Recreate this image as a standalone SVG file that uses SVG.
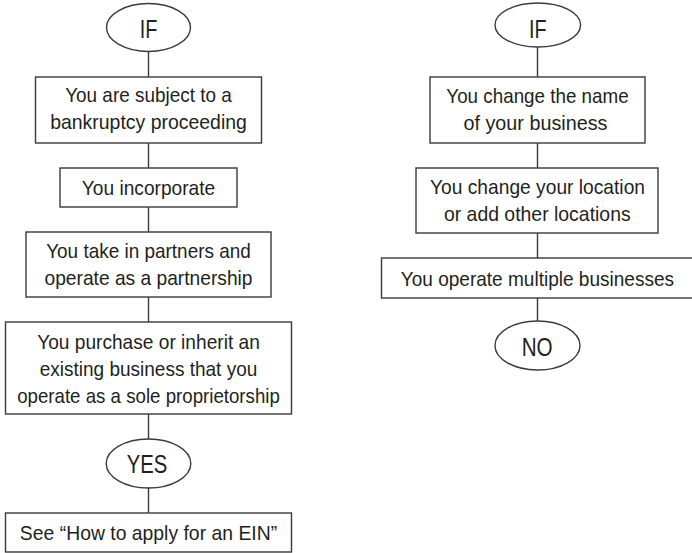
<svg xmlns="http://www.w3.org/2000/svg" width="692" height="553" viewBox="0 0 692 553">
<style>
.box{fill:#fff;stroke:#3a3a3a;stroke-width:1.4}
.conn{stroke:#3a3a3a;stroke-width:1.4;fill:none}
.t{font-family:"Liberation Sans",Arial,sans-serif;font-size:21px;fill:#231f20;text-anchor:middle}
.lab{font-family:"Liberation Sans",Arial,sans-serif;font-size:25px;fill:#231f20;text-anchor:middle}
</style>
<rect width="692" height="553" fill="#fff"/>
<g id="connectors">
<line class="conn" x1="148.5" y1="51.5" x2="148.5" y2="77"/>
<line class="conn" x1="148.5" y1="143" x2="148.5" y2="168"/>
<line class="conn" x1="148.5" y1="207" x2="148.5" y2="232"/>
<line class="conn" x1="148.5" y1="297" x2="148.5" y2="322"/>
<line class="conn" x1="148.5" y1="414" x2="148.5" y2="439"/>
<line class="conn" x1="148.5" y1="488" x2="148.5" y2="513"/>
<line class="conn" x1="537.5" y1="47" x2="537.5" y2="77"/>
<line class="conn" x1="537.5" y1="143" x2="537.5" y2="168"/>
<line class="conn" x1="537.5" y1="233" x2="537.5" y2="258"/>
<line class="conn" x1="537.5" y1="298" x2="537.5" y2="321"/>
</g>
<g id="if-left">
<ellipse class="box" cx="148.5" cy="27.5" rx="42" ry="24"/>
<text class="lab" x="148.5" y="38" textLength="17.6" lengthAdjust="spacingAndGlyphs">IF</text>
</g>
<g id="bankruptcy">
<rect class="box" x="35.5" y="77" width="226" height="66"/>
<text class="t" x="148.5" y="102" textLength="166.7" lengthAdjust="spacingAndGlyphs">You are subject to a</text>
<text class="t" x="148.5" y="129" textLength="196.7" lengthAdjust="spacingAndGlyphs">bankruptcy proceeding</text>
</g>
<g id="incorporate">
<rect class="box" x="60" y="168" width="177" height="39"/>
<text class="t" x="148.5" y="194.5" textLength="133.3" lengthAdjust="spacingAndGlyphs">You incorporate</text>
</g>
<g id="partnership">
<rect class="box" x="26" y="232" width="245" height="65"/>
<text class="t" x="148.5" y="258.3" textLength="204.7" lengthAdjust="spacingAndGlyphs">You take in partners and</text>
<text class="t" x="148.5" y="285.3" textLength="208" lengthAdjust="spacingAndGlyphs">operate as a partnership</text>
</g>
<g id="purchase">
<rect class="box" x="5.5" y="322" width="286" height="92"/>
<text class="t" x="148.5" y="349" textLength="222.7" lengthAdjust="spacingAndGlyphs">You purchase or inherit an</text>
<text class="t" x="148.5" y="376" textLength="217.7" lengthAdjust="spacingAndGlyphs">existing business that you</text>
<text class="t" x="148.5" y="403" textLength="262.7" lengthAdjust="spacingAndGlyphs">operate as a sole proprietorship</text>
</g>
<g id="yes">
<ellipse class="box" cx="148.5" cy="463.5" rx="42.3" ry="24.5"/>
<text class="lab" x="147" y="473" textLength="40.6" lengthAdjust="spacingAndGlyphs">YES</text>
</g>
<g id="see-ein">
<rect class="box" x="5.5" y="513" width="286" height="39"/>
<text class="t" x="148.5" y="540" textLength="257.3" lengthAdjust="spacingAndGlyphs">See “How to apply for an EIN”</text>
</g>
<g id="if-right">
<ellipse class="box" cx="537.8" cy="25" rx="42.8" ry="22"/>
<text class="lab" x="537.8" y="37.7" textLength="17.6" lengthAdjust="spacingAndGlyphs">IF</text>
</g>
<g id="change-name">
<rect class="box" x="430" y="77" width="215" height="66"/>
<text class="t" x="537.5" y="103" textLength="182.3" lengthAdjust="spacingAndGlyphs">You change the name</text>
<text class="t" x="535.5" y="130" textLength="144" lengthAdjust="spacingAndGlyphs">of your business</text>
</g>
<g id="change-location">
<rect class="box" x="416" y="168" width="242" height="65"/>
<text class="t" x="537.5" y="194.3" textLength="215" lengthAdjust="spacingAndGlyphs">You change your location</text>
<text class="t" x="537.3" y="221.3" textLength="186.7" lengthAdjust="spacingAndGlyphs">or add other locations</text>
</g>
<g id="multiple">
<rect class="box" x="381.5" y="258" width="312" height="40"/>
<text class="t" x="537.4" y="285.5" textLength="273.3" lengthAdjust="spacingAndGlyphs">You operate multiple businesses</text>
</g>
<g id="no">
<ellipse class="box" cx="537.5" cy="345.5" rx="42.5" ry="24.5"/>
<text class="lab" x="537.2" y="355.5" textLength="31" lengthAdjust="spacingAndGlyphs">NO</text>
</g>
</svg>
